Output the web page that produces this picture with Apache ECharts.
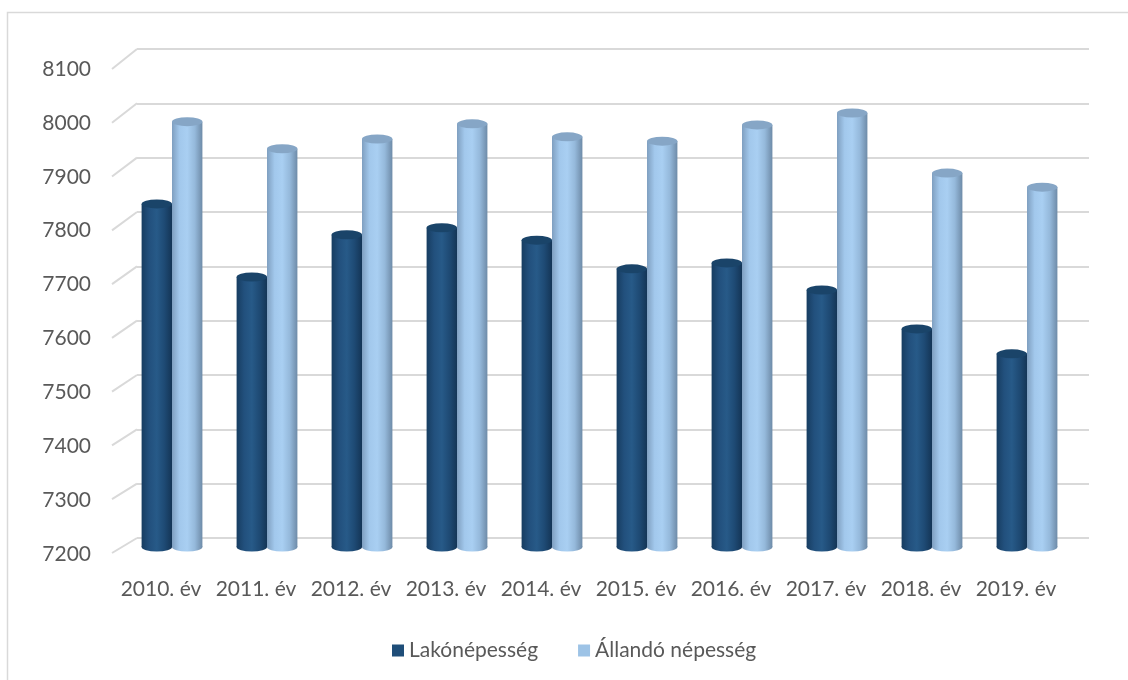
<!DOCTYPE html>
<html>
<head>
<meta charset="utf-8">
<script src="https://cdn.jsdelivr.net/npm/echarts@6/dist/echarts.min.js"></script>
<style>
  html, body { margin: 0; padding: 0; background: #fff; }
  #chart { width: 1128px; height: 680px; }
</style>
</head>
<body>
<div id="chart"></div>
<script>
// Data
const years = ['2010. év', '2011. év', '2012. év', '2013. év', '2014. év',
  '2015. év', '2016. év', '2017. év', '2018. év', '2019. év'];
const lakoNepesseg = [7834, 7699, 7777, 7790, 7767, 7714, 7725, 7675, 7603, 7557];
const allandoNepesseg = [7986, 7936, 7954, 7982, 7958, 7950, 7980, 8002, 7891, 7865];
const yTicks = [7200, 7300, 7400, 7500, 7600, 7700, 7800, 7900, 8000, 8100];

const FONT = 'Lato';
const TEXT = '#595959';
const GRID = '#D9D9D9';

const DARK = {
  legend: '#1F4E79',
  body: ['#173D61', '#22507D', '#275A88', '#1E4A74', '#143556'],
  top: '#1A4469'
};
const LIGHT = {
  legend: '#9DC3E6',
  body: ['#7F9FC0', '#A2C8EC', '#A9CFF2', '#95B9DB', '#6E8BA8'],
  top: '#86A6C6'
};

function hGradient(stops) {
  return new echarts.graphic.LinearGradient(0, 0, 1, 0,
    stops.map((c, i) => ({ offset: i / (stops.length - 1), color: c })));
}

// Cylinder bar drawn with the category/value scales of grid 0
function cylinder(side, pal) {
  return function (params, api) {
    const val = api.value(1);
    const top = api.coord([api.value(0), val]);
    const base = api.coord([api.value(0), 7200]);
    const band = api.size([1, 0])[0];
    const w = band * 0.32;
    const x = side === 0 ? top[0] - w : top[0];
    const rx = w / 2;
    const ry = 4.5;
    return {
      type: 'group',
      children: [
        {
          type: 'circle',
          x: x + rx, y: base[1], scaleY: ry / rx,
          shape: { cx: 0, cy: 0, r: rx },
          style: { fill: hGradient(pal.body) }
        },
        {
          type: 'rect',
          shape: { x: x, y: top[1], width: w, height: base[1] - top[1] },
          style: { fill: hGradient(pal.body) }
        },
        {
          type: 'circle',
          x: x + rx, y: top[1], scaleY: ry / rx,
          shape: { cx: 0, cy: 0, r: rx },
          style: { fill: pal.top }
        }
      ]
    };
  };
}

const chart = echarts.init(document.getElementById('chart'), null, { renderer: 'canvas' });

chart.setOption({
  backgroundColor: '#fff',
  animation: false,
  textStyle: { fontFamily: FONT },
  graphic: [{
    type: 'rect',
    shape: { x: 7.5, y: 12.5, width: 1200, height: 700 },
    style: { fill: 'none', stroke: '#D9D9D9', lineWidth: 1.5 },
    silent: true
  }],
  legend: {
    left: 387,
    top: 635,
    icon: 'rect',
    itemWidth: 12,
    itemHeight: 12,
    itemGap: 40,
    textStyle: { fontFamily: FONT, fontSize: 21, color: TEXT },
    data: ['Lakónépesség', 'Állandó népesség']
  },
  grid: [
    // bars (mid depth)
    { left: 124.5, right: 53.5, top: 60, height: 487 },
    // back wall
    { left: 137, right: 39, top: 49, height: 489 },
    // front edge (labels)
    { left: 112, right: 39, top: 69, height: 485 }
  ],
  xAxis: [
    {
      gridIndex: 0, type: 'category', data: years,
      axisLine: { show: false }, axisTick: { show: false },
      axisLabel: {
        interval: 0, fontFamily: FONT, fontSize: 21, color: TEXT,
        margin: 32, padding: [0, 22, 0, 0]
      }
    },
    { gridIndex: 1, type: 'value', min: 0, max: 1, show: false },
    { gridIndex: 2, type: 'value', min: 0, max: 1, show: false }
  ],
  yAxis: [
    { gridIndex: 0, type: 'value', min: 7200, max: 8100, interval: 100, show: false },
    {
      gridIndex: 1, type: 'value', min: 7200, max: 8100, interval: 100,
      axisLine: { show: false }, axisTick: { show: false }, axisLabel: { show: false },
      splitLine: { show: true, lineStyle: { color: GRID, width: 2 } }
    },
    {
      gridIndex: 2, type: 'value', min: 7200, max: 8100, interval: 100,
      axisLine: { show: false }, axisTick: { show: false },
      splitLine: { show: false },
      axisLabel: {
        fontFamily: FONT, fontSize: 21, color: TEXT, margin: 21,
        formatter: v => String(v)
      }
    }
  ],
  series: [
    {
      // perspective edges of the gridlines
      type: 'custom',
      xAxisIndex: 1, yAxisIndex: 1,
      silent: true,
      data: yTicks.map(v => [0, v]),
      renderItem: function (params, api) {
        const p = api.coord([0, api.value(1)]);
        const dy = 15 + (api.value(1) - 7200) / 900 * 5;
        return {
          type: 'line',
          shape: { x1: p[0] - 25, y1: p[1] + dy, x2: p[0], y2: p[1] },
          style: { stroke: GRID, lineWidth: 2 }
        };
      }
    },
    {
      name: 'Lakónépesség',
      type: 'custom',
      xAxisIndex: 0, yAxisIndex: 0,
      itemStyle: { color: DARK.legend },
      data: lakoNepesseg.map((v, i) => [i, v]),
      renderItem: cylinder(0, DARK)
    },
    {
      name: 'Állandó népesség',
      type: 'custom',
      xAxisIndex: 0, yAxisIndex: 0,
      itemStyle: { color: LIGHT.legend },
      data: allandoNepesseg.map((v, i) => [i, v]),
      renderItem: cylinder(1, LIGHT)
    }
  ]
});
</script>
</body>
</html>
